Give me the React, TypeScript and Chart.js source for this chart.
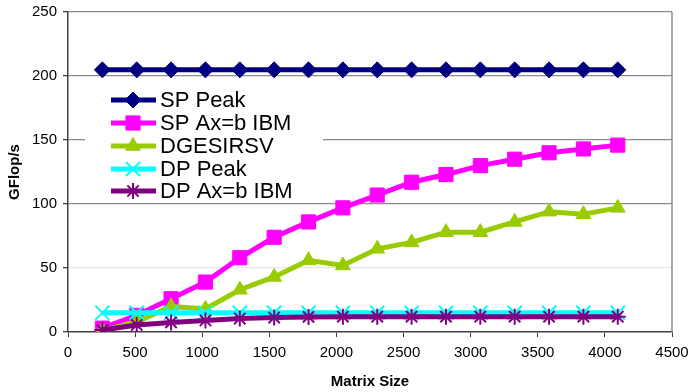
import React, { useEffect, useRef } from "react";
import { Chart, registerables } from "chart.js";
import { drawPoint } from "chart.js/helpers";

Chart.register(...registerables);

const matrixSizes = [256, 512, 768, 1024, 1280, 1536, 1792, 2048, 2304, 2560, 2816, 3072, 3328, 3584, 3840, 4096];
const spPeak = [204.8, 204.8, 204.8, 204.8, 204.8, 204.8, 204.8, 204.8, 204.8, 204.8, 204.8, 204.8, 204.8, 204.8, 204.8, 204.8];
const spAxbIBM = [3, 13, 26, 39, 58, 74, 86, 97, 107, 117, 123, 130, 135, 140, 143, 146];
const dgesirsv = [1, 8, 20, 18, 33, 43, 56, 52, 65, 70, 78, 78, 86, 94, 92, 97];
const dpPeak = [15, 15, 15, 15, 15, 15, 15, 15, 15, 15, 15, 15, 15, 15, 15, 15];
const dpAxbIBM = [1.5, 5.5, 7.5, 9, 10.5, 11.3, 11.8, 12, 12, 12, 12, 12, 12, 12, 12, 12];

const seriesNames = ["SP Peak", "SP Ax=b IBM", "DGESIRSV", "DP Peak", "DP Ax=b IBM"];
const seriesValues = [spPeak, spAxbIBM, dgesirsv, dpPeak, dpAxbIBM];
const seriesColors = ["#000080", "#FF00FF", "#99CC00", "#00FFFF", "#800080"];
const seriesMarkers = ["rectRot", "rect", "triangle", "crossRot", "star"];
const seriesRadius = [8, 10, 8.5, 10, 8];

const yTicks = [0, 50, 100, 150, 200, 250];

const FONT = "'Liberation Sans', Arial, sans-serif";

const legendPlugin = {
  id: "insideLegend",
  afterDatasetsDraw(chart: any) {
    const ctx = chart.ctx;
    ctx.save();
    ctx.fillStyle = "#ffffff";
    ctx.fillRect(85, 87, 238, 113);
    const rowY = [100, 123, 146, 169, 191];
    seriesNames.forEach((name, i) => {
      const y = rowY[i];
      ctx.strokeStyle = seriesColors[i];
      ctx.lineWidth = 5;
      ctx.lineCap = "butt";
      ctx.beginPath();
      ctx.moveTo(111, y);
      ctx.lineTo(156, y);
      ctx.stroke();
      ctx.fillStyle = seriesColors[i];
      ctx.strokeStyle = seriesColors[i];
      ctx.lineWidth = i >= 3 ? 2 : 1;
      drawPoint(ctx, {
        pointStyle: seriesMarkers[i],
        radius: seriesRadius[i],
        rotation: 0,
        borderWidth: i >= 3 ? 2 : 1,
      } as any, 133, y);
      ctx.fillStyle = "#000000";
      ctx.font = "22px " + FONT;
      ctx.textBaseline = "middle";
      ctx.textAlign = "left";
      ctx.fillText(name, 160, y + 1);
    });
    ctx.restore();
  },
  beforeDatasetsDraw(chart: any) {
    const { ctx, chartArea } = chart;
    ctx.save();
    ctx.strokeStyle = "#8c8c8c";
    ctx.lineWidth = 1.5;
    ctx.beginPath();
    ctx.moveTo(chartArea.right, chartArea.top);
    ctx.lineTo(chartArea.right, chartArea.bottom);
    ctx.stroke();
    ctx.restore();
  },
};

export default function App() {
  const ref = useRef<HTMLCanvasElement>(null);
  useEffect(() => {
    if (!ref.current) return;
    const datasets = seriesNames.map((name, i) => ({
      label: name,
      data: matrixSizes.map((x, j) => ({ x, y: seriesValues[i][j] })),
      borderColor: seriesColors[i],
      backgroundColor: seriesColors[i],
      pointBackgroundColor: seriesColors[i],
      pointBorderColor: seriesColors[i],
      pointStyle: seriesMarkers[i],
      pointRadius: seriesRadius[i],
      pointBorderWidth: i >= 3 ? 2 : 1,
      borderWidth: 5,
      tension: 0,
      order: 4 - i,
    }));
    const chart = new Chart(ref.current, {
      type: "line",
      data: { datasets },
      options: {
        animation: false,
        responsive: false,
        maintainAspectRatio: false,
        layout: { padding: { top: 12, right: 21, left: 0, bottom: 0 } },
        plugins: { legend: { display: false }, tooltip: { enabled: false } },
        scales: {
          x: {
            type: "linear",
            min: 0,
            max: 4500,
            ticks: {
              stepSize: 500,
              color: "#000",
              font: { family: FONT, size: 15 },
              padding: 7,
              maxRotation: 0,
              callback: (v: any) => String(v),
            },
            grid: {
              drawOnChartArea: false,
              drawTicks: true,
              tickLength: 5,
              tickColor: "#404040",
            },
            border: { display: true, color: "#404040", width: 1.5 },
            title: {
              display: true,
              text: "Matrix Size",
              color: "#000",
              font: { family: FONT, size: 15, weight: "bold" },
              padding: { top: 6, bottom: 1 },
            },
            afterFit(scale: any) {
              scale.height = 60;
              scale.paddingLeft = 0;
              scale.paddingRight = 0;
            },
          },
          y: {
            type: "linear",
            min: 0,
            max: 250,
            afterBuildTicks(scale: any) {
              scale.ticks = yTicks.map((v) => ({ value: v }));
            },
            ticks: {
              color: "#000",
              font: { family: FONT, size: 15 },
              padding: 6,
            },
            grid: {
              drawOnChartArea: true,
              drawTicks: true,
              tickLength: 5,
              tickColor: "#404040",
              lineWidth: 1.3,
              color: (c: any) => {
                const v = c.tick ? c.tick.value : 0;
                if (v === 50) return "#e6e6e6";
                if (v === 0) return "rgba(0,0,0,0)";
                return "#8c8c8c";
              },
            },
            border: { display: true, color: "#404040", width: 1.5 },
            title: {
              display: true,
              text: "GFlop/s",
              color: "#000",
              font: { family: FONT, size: 15, weight: "bold" },
              padding: { top: 6, bottom: 4 },
            },
            afterFit(scale: any) {
              scale.width = 68;
              scale.paddingTop = 0;
              scale.paddingBottom = 0;
            },
          },
        },
      },
      plugins: [legendPlugin],
    } as any);
    return () => chart.destroy();
  }, []);
  return (
    <div style={{ position: "fixed", left: 0, top: 0, width: 693, height: 392, background: "#fff" }}>
      <canvas ref={ref} width={693} height={392} style={{ width: 693, height: 392 }} />
    </div>
  );
}
